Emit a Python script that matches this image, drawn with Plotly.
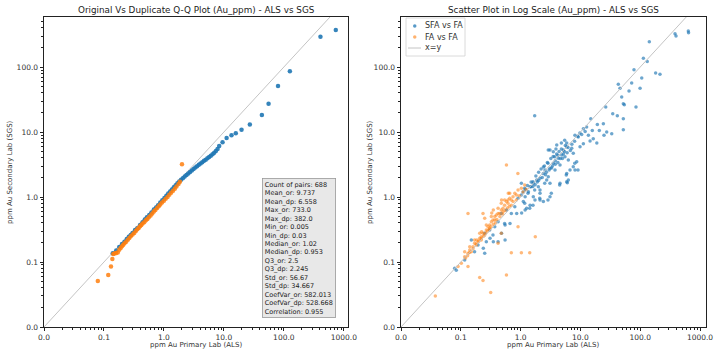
import plotly.graph_objects as go

# ---------------- data ----------------
# Q-Q plot (left): sorted quantiles, ALS (x) vs SGS (y)
qq_sfa_als = [0.14, 0.16, 0.18, 0.2, 0.22, 0.24, 0.26, 0.28, 0.3, 0.33, 0.36, 0.4, 0.44, 0.48, 0.52,
              0.57, 0.62, 0.68, 0.74, 0.8, 0.87, 0.94, 1.02, 1.1, 1.18, 1.27, 1.36, 1.46, 1.57, 1.68,
              1.8, 1.93, 2.07, 2.22, 2.38, 2.55, 2.73, 2.92, 3.12, 3.34, 3.57, 3.82, 4.08, 4.36, 4.66,
              4.98, 5.32, 5.68, 6.06, 6.47, 6.9, 7.36, 7.85, 8.35, 9.5, 11.1, 13.4, 15.8, 19.7, 27.1,
              43, 55.6, 80, 126, 408, 735]
qq_sfa_sgs = [0.136, 0.15, 0.17, 0.19, 0.205, 0.225, 0.245, 0.26, 0.28, 0.31, 0.33, 0.37, 0.41, 0.45, 0.49,
              0.53, 0.58, 0.64, 0.69, 0.75, 0.82, 0.89, 0.97, 1.05, 1.13, 1.22, 1.31, 1.41, 1.52, 1.63,
              1.74, 1.84, 1.95, 2.06, 2.18, 2.3, 2.43, 2.56, 2.7, 2.84, 2.98, 3.13, 3.28, 3.44, 3.6,
              3.76, 3.94, 4.12, 4.32, 4.54, 4.8, 5.1, 5.5, 6.1, 6.95, 8.1, 8.9, 9.55, 10.8, 13.1,
              18.3, 27.2, 51, 86, 292, 371]
qq_fa_als = [0.079, 0.118, 0.131, 0.138, 0.143, 0.15, 0.16, 0.17, 0.18, 0.19, 0.2, 0.21, 0.22, 0.235,
             0.25, 0.265, 0.28, 0.3, 0.32, 0.34, 0.36, 0.38, 0.4, 0.42, 0.44, 0.47, 0.5, 0.53, 0.56,
             0.6, 0.64, 0.68, 0.72, 0.77, 0.82, 0.87, 0.93, 1.0, 1.07, 1.15, 1.23, 1.32, 1.42, 1.52,
             1.62, 1.75, 1.85, 2.0]
qq_fa_sgs = [0.051, 0.063, 0.085, 0.111, 0.133, 0.135, 0.138, 0.14, 0.155, 0.165, 0.175, 0.185, 0.195, 0.205,
             0.22, 0.235, 0.25, 0.265, 0.28, 0.3, 0.32, 0.335, 0.355, 0.37, 0.39, 0.41, 0.44, 0.46, 0.49,
             0.52, 0.56, 0.6, 0.63, 0.68, 0.72, 0.77, 0.82, 0.88, 0.94, 1.0, 1.08, 1.16, 1.25, 1.34,
             1.45, 1.58, 1.72, 3.18]

# Scatter (right): paired results
sfa_als = [637, 643, 382, 397, 142, 113, 131, 78.7, 181, 214, 106, 43, 45.9, 72, 65, 99.4, 49, 52.2, 54.2, 85,
           26.5, 34.7, 41.4, 52.2, 14.9, 24.2, 52.2, 19.2, 12.7, 11.2, 20.7, 27.5, 33.4, 24.8, 15.8, 16.4,
           13.6, 9.8, 9.2, 8.1, 18.8, 14.5, 11.2, 5.9, 1.72,
           9.85, 7.16, 5.18, 4.87, 5.52, 4.27, 6.28, 7.6, 3.52, 2.9, 8.67, 7.6, 6.7, 5.9, 8.13, 4.56, 3.52,
           3.76, 3.1, 2.56, 2.4, 2.9, 2.11, 1.86, 1.63, 1.44, 1.98, 3.1, 4.56, 5.9, 1.35, 1.63, 2.11, 2.4,
           1.74, 1.19, 1.11, 1.44, 1.26, 1.61, 2.53, 4.5, 6.04, 2.09, 2.87, 1.61, 1.42, 1.17, 1.03, 0.906,
           0.8, 0.58, 0.7, 0.475, 0.42, 0.54, 0.37, 0.304, 0.345, 0.251, 0.267, 0.194, 0.251, 0.17, 0.15,
           0.116, 0.079, 0.084, 1.72, 1.33, 3.26, 1.17, 1.49, 1.03, 0.86, 1.04, 0.665, 0.55, 0.48, 0.55,
           0.35, 0.42, 0.238, 0.308, 4.02, 5.9, 3.1, 6.28, 2.73, 2.11, 3.1, 2.11, 1.19, 5.46, 2.87, 3.7,
           8.04, 9.12, 5.8,
           3.5, 4.0, 4.4, 4.8, 5.2, 3.8, 4.6, 3.2, 2.8, 2.5, 2.2, 2.0, 1.8, 2.6, 3.0, 3.4, 4.2, 5.0, 6.0,
           6.8, 8.0, 7.2, 9.0, 10.5, 12.0, 5.6, 4.8, 3.9, 2.4, 1.5, 1.3, 1.2, 1.1, 2.0, 2.3, 2.7, 3.3, 3.8,
           4.2, 5.4, 6.2, 1.6, 1.75, 1.9]
sfa_sgs = [358, 337, 325, 300, 245, 136, 122, 90.8, 80.9, 77.3, 67.8, 54.2, 47, 56.8, 42.8, 47, 34.5, 27.2, 26.3, 24.3,
           24.3, 19.1, 17.8, 16.0, 16.0, 13.4, 10.8, 13.1, 11.9, 11.2, 10.6, 10.0, 9.4, 8.9, 10.6, 7.9,
           8.9, 9.7, 8.4, 8.9, 6.8, 7.3, 6.6, 6.8, 17.8,
           5.94, 5.61, 5.28, 4.43, 4.17, 3.94, 3.71, 4.7, 4.98, 5.28, 3.49, 2.93, 2.6, 2.31, 2.6, 3.1, 3.3,
           2.6, 2.76, 2.6, 2.31, 2.05, 1.94, 1.83, 1.63, 1.44, 1.44, 1.63, 1.63, 1.72, 1.21, 1.01, 1.14, 0.85,
           0.9, 1.01, 0.85, 0.75, 0.67, 1.72, 1.63, 1.53, 1.66, 0.955, 0.9, 0.75, 0.67, 0.8, 1.07, 0.955,
           0.71, 0.63, 0.56, 0.56, 0.417, 0.39, 0.35, 0.31, 0.26, 0.277, 0.205, 0.183, 0.136, 0.144, 0.218,
           0.107, 0.08, 0.075, 1.28, 1.14, 1.14, 1.36, 1.44, 1.63, 0.56, 0.57, 0.39, 0.37, 0.277, 0.218,
           0.205, 0.205, 0.163, 0.232, 6.3, 5.94, 5.28, 1.83, 1.83, 1.28, 1.01, 0.9, 0.63, 7.5, 3.3, 4.17,
           3.3, 2.6, 2.18,
           4.2, 4.6, 5.0, 5.5, 4.6, 3.6, 3.9, 3.9, 3.4, 3.0, 2.7, 2.4, 2.1, 2.2, 2.6, 3.0, 3.4, 3.9, 4.8,
           5.2, 7.2, 6.5, 8.6, 9.2, 10.2, 6.2, 6.8, 5.5, 2.9, 1.7, 1.5, 1.3, 1.2, 1.8, 2.0, 2.4, 2.8, 3.2,
           4.4, 5.0, 5.8, 1.45, 1.55, 1.7]
fa_als = [0.09, 0.102, 0.116, 0.132, 0.141, 0.16, 0.17, 0.194, 0.207, 0.22, 0.235, 0.267, 0.285, 0.304, 0.324,
          0.345, 0.37, 0.393, 0.42, 0.475, 0.508, 0.54, 0.58, 0.615, 0.658, 0.746, 0.8, 0.906, 1.03, 1.17,
          0.15, 0.182, 0.22, 0.251, 0.304, 0.37, 0.447, 0.508, 0.615, 0.7, 0.847, 0.54, 0.475, 0.42, 0.324,
          0.267, 0.207, 0.17, 0.141, 0.116,
          1.1, 1.25, 0.95, 0.85, 0.75, 0.65, 0.6, 0.55, 0.5, 0.45, 0.4, 0.38, 0.35, 0.32, 0.3, 0.28, 0.26,
          0.24, 0.22, 0.2, 0.18, 0.16, 0.14, 0.13, 0.12,
          0.132, 0.235, 0.251, 0.658, 0.7, 0.906, 0.475, 0.42, 0.7, 1.03, 1.42, 1.76, 0.0375, 0.132, 0.207,
          0.235, 0.316, 0.58, 0.329, 0.223, 0.185, 0.58, 0.9, 0.48, 0.622, 0.35]
fa_sgs = [0.085, 0.096, 0.121, 0.136, 0.153, 0.172, 0.194, 0.205, 0.232, 0.245, 0.277, 0.31, 0.35, 0.37, 0.417,
          0.443, 0.5, 0.528, 0.56, 0.63, 0.67, 0.75, 0.85, 0.9, 0.955, 1.01, 1.14, 1.28, 1.36, 1.53,
          0.144, 0.183, 0.218, 0.26, 0.33, 0.443, 0.56, 0.594, 0.8, 0.9, 1.07, 0.9, 0.8, 0.67, 0.5,
          0.37, 0.277, 0.218, 0.172, 0.144,
          1.2, 1.3, 1.05, 0.9, 0.85, 0.72, 0.68, 0.62, 0.55, 0.5, 0.45, 0.4, 0.38, 0.35, 0.32, 0.3, 0.28,
          0.25, 0.23, 0.21, 0.19, 0.16, 0.14, 0.125, 0.115,
          0.56, 0.56, 0.47, 1.14, 0.75, 0.35, 0.277, 0.194, 0.139, 0.139, 0.139, 0.245, 0.03, 0.085, 0.058,
          0.052, 0.034, 0.063, 0.57, 0.292, 0.218, 3.1, 2.3, 0.9, 1.14, 0.63]

diag = [0.01, 1000]
tick_vals = [0.01, 0.1, 1, 10, 100, 1000]
tick_text = ["0.0", "0.1", "1.0", "10.0", "100.0", "1000.0"]
legend_labels = ["SFA vs FA", "FA vs FA", "x=y"]

stats_lines = ["Count of pairs: 688", "Mean_or: 9.737", "Mean_dp: 6.558", "Max_or: 733.0", "Max_dp: 382.0",
               "Min_or: 0.005", "Min_dp: 0.03", "Median_or: 1.02", "Median_dp: 0.953", "Q3_or: 2.5",
               "Q3_dp: 2.245", "Std_or: 56.67", "Std_dp: 34.667", "CoefVar_or: 582.013",
               "CoefVar_dp: 528.668", "Correlation: 0.955"]

BLUE = "#1f77b4"
ORANGE = "#ff7f0e"
GREY = "#c4c4c4"
FONT = "DejaVu Sans"
W, H = 717, 358

fig = go.Figure()

# left: Q-Q
fig.add_trace(go.Scatter(x=diag, y=diag, mode="lines", line=dict(color=GREY, width=1),
                         showlegend=False, xaxis="x", yaxis="y", hoverinfo="skip"))
fig.add_trace(go.Scatter(x=qq_sfa_als, y=qq_sfa_sgs, mode="markers",
                         marker=dict(color=BLUE, size=4.5, opacity=0.9), showlegend=False,
                         xaxis="x", yaxis="y"))
fig.add_trace(go.Scatter(x=qq_fa_als, y=qq_fa_sgs, mode="markers",
                         marker=dict(color=ORANGE, size=4.5, opacity=0.85), showlegend=False,
                         xaxis="x", yaxis="y"))

# right: scatter
fig.add_trace(go.Scatter(x=sfa_als, y=sfa_sgs, mode="markers", name=legend_labels[0],
                         marker=dict(color=BLUE, size=3.5, opacity=0.65), showlegend=False,
                         xaxis="x2", yaxis="y2"))
fig.add_trace(go.Scatter(x=fa_als, y=fa_sgs, mode="markers", name=legend_labels[1],
                         marker=dict(color=ORANGE, size=3.5, opacity=0.55), showlegend=False,
                         xaxis="x2", yaxis="y2"))
fig.add_trace(go.Scatter(x=diag, y=diag, mode="lines", name=legend_labels[2],
                         line=dict(color=GREY, width=1), showlegend=False,
                         xaxis="x2", yaxis="y2", hoverinfo="skip"))

minor_vals = [m * 10 ** e for e in range(-2, 3) for m in range(2, 10)]


def axis(domain, rng, anchor):
    return dict(type="log", domain=domain, range=rng, anchor=anchor, automargin=False,
                tickmode="array", tickvals=tick_vals, ticktext=tick_text,
                ticks="outside", ticklen=3.5, tickwidth=0.8, tickcolor="#222",
                minor=dict(tickmode="array", tickvals=minor_vals, ticks="outside", ticklen=2,
                           tickwidth=0.6, tickcolor="#222", showgrid=False),
                showgrid=False, zeroline=False, showline=True, linecolor="#222", linewidth=0.8,
                mirror=True, tickfont=dict(family=FONT, size=7.5, color="#333"))


fig.update_layout(
    template="none",
    width=W, height=H, margin=dict(l=0, r=0, t=0, b=0, pad=0),
    paper_bgcolor="white", plot_bgcolor="white",
    font=dict(family=FONT, color="#333"),
    xaxis=axis([44 / W, 348 / W], [-2, 3.07], "y"),
    yaxis=axis([1 - 327 / H, 1 - 17 / H], [-2, 2.77], "x"),
    xaxis2=axis([401 / W, 706 / W], [-2, 3.1], "y2"),
    yaxis2=axis([1 - 327 / H, 1 - 17 / H], [-2, 2.77], "x2"),
    showlegend=False,
)


def px(x):
    return x / W


def py(y):
    return 1 - y / H


ann = []
ann.append(dict(text="Original Vs Duplicate Q-Q Plot (Au_ppm) - ALS vs SGS", x=px(196), y=py(10),
                xanchor="center", yanchor="middle",
                showarrow=False, font=dict(family=FONT, size=8.8, color="#222")))
ann.append(dict(text="Scatter Plot in Log Scale (Au_ppm) - ALS vs SGS", x=px(553), y=py(10),
                xanchor="center", yanchor="middle",
                showarrow=False, font=dict(family=FONT, size=8.8, color="#222")))
for cx in (196, 553):
    ann.append(dict(text="ppm Au Primary Lab (ALS)", x=px(cx), y=py(345), xanchor="center", yanchor="middle",
                    showarrow=False, font=dict(family=FONT, size=7, color="#333")))
for cx in (10, 370):
    ann.append(dict(text="ppm Au Secondary Lab (SGS)", x=px(cx), y=py(172), xanchor="center", yanchor="middle",
                    showarrow=False, textangle=-90, font=dict(family=FONT, size=7, color="#333")))
ann.append(dict(text="<br>".join(stats_lines), x=px(262), y=py(178),
                xanchor="left", yanchor="top", align="left", showarrow=False,
                bgcolor="#e8e8e8", bordercolor="#999", borderwidth=0.8, borderpad=2,
                font=dict(family=FONT, size=6.5, color="#222")))
# legend labels
for i, lab in enumerate(legend_labels):
    ann.append(dict(text=lab, x=px(423), y=py(26 + i * 11), xanchor="left", yanchor="middle",
                    showarrow=False, font=dict(family=FONT, size=8, color="#333")))
for a in ann:
    a["xref"] = "paper"
    a["yref"] = "paper"

shapes = [
    dict(type="rect", xref="paper", yref="paper", x0=px(406), x1=px(465), y0=py(18), y1=py(56),
         line=dict(color="#d0d0d0", width=0.8), fillcolor="white", layer="below"),
    dict(type="circle", xref="paper", yref="paper", x0=px(413), x1=px(416.5), y0=py(24.3), y1=py(27.8),
         line=dict(width=0), fillcolor=BLUE, opacity=0.75),
    dict(type="circle", xref="paper", yref="paper", x0=px(413), x1=px(416.5), y0=py(35.3), y1=py(38.8),
         line=dict(width=0), fillcolor=ORANGE, opacity=0.6),
    dict(type="line", xref="paper", yref="paper", x0=px(408), x1=px(421), y0=py(48), y1=py(48),
         line=dict(color=GREY, width=1)),
]
fig.update_layout(annotations=ann, shapes=shapes)

fig.write_html("out.html", config={"displayModeBar": False},
               post_script="document.body.style.margin='0px';document.body.style.padding='0px';"
                           "document.body.style.overflow='hidden';")
